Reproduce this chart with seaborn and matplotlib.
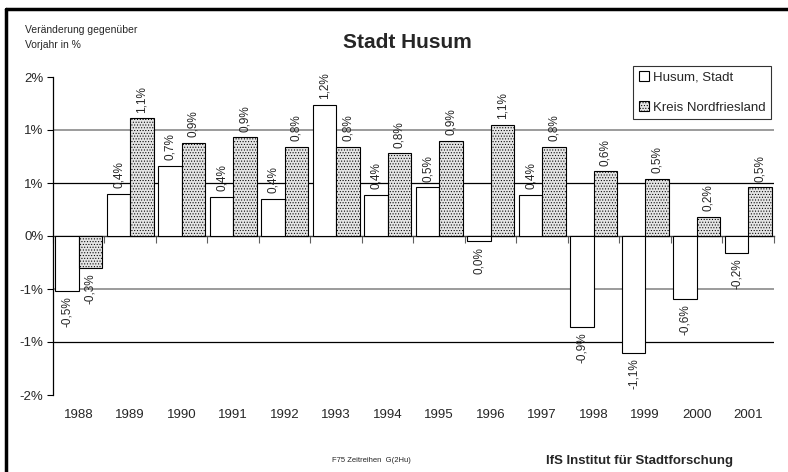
import matplotlib
matplotlib.use("Agg")
import matplotlib.pyplot as plt
import seaborn as sns
import pandas as pd
from matplotlib.lines import Line2D
from matplotlib.ticker import FixedLocator, NullFormatter

years = ["1988", "1989", "1990", "1991", "1992", "1993", "1994",
         "1995", "1996", "1997", "1998", "1999", "2000", "2001"]
husum = [-0.52, 0.40, 0.66, 0.37, 0.35, 1.24, 0.39,
         0.46, -0.05, 0.39, -0.86, -1.10, -0.59, -0.16]
kreis = [-0.30, 1.11, 0.88, 0.93, 0.84, 0.84, 0.78,
         0.90, 1.05, 0.84, 0.61, 0.54, 0.18, 0.46]
husum_labels = ["-0,5%", "0,4%", "0,7%", "0,4%", "0,4%", "1,2%", "0,4%",
                "0,5%", "0,0%", "0,4%", "-0,9%", "-1,1%", "-0,6%", "-0,2%"]
kreis_labels = ["-0,3%", "1,1%", "0,9%", "0,9%", "0,8%", "0,8%", "0,8%",
                "0,9%", "1,1%", "0,8%", "0,6%", "0,5%", "0,2%", "0,5%"]
series_names = ["Husum, Stadt", "Kreis Nordfriesland"]
yticks = [-1.5, -1.0, -0.5, 0.0, 0.5, 1.0, 1.5]
ytick_labels = ["-2%", "-1%", "-1%", "0%", "1%", "1%", "2%"]

sns.set_theme(style="white")
plt.rcParams["font.family"] = ["Liberation Sans", "DejaVu Sans"]
plt.rcParams["hatch.linewidth"] = 0.45

df = pd.DataFrame({
    "Jahr": years * 2,
    "Wert": husum + kreis,
    "Serie": [series_names[0]] * len(years) + [series_names[1]] * len(years),
})

fig = plt.figure(figsize=(7.88, 4.72), dpi=100)
ax = fig.add_axes([53 / 788, 1 - 395 / 472, (774 - 53) / 788, (395 - 77) / 472])

# reference/grid lines
grid_style = {1.0: "#808080", 0.5: "#000000", -0.5: "#808080", -1.0: "#000000"}
for yv, col in grid_style.items():
    ax.axhline(yv, color=col, lw=1.1 if col != "#000000" else 0.9, zorder=0)

sns.barplot(data=df, x="Jahr", y="Wert", hue="Serie", order=years,
            hue_order=series_names, palette=["white", "#e4e4e4"],
            width=0.91, edgecolor="black", linewidth=0.8, ax=ax, zorder=2,
            legend=True)

n = len(years)
for i, p in enumerate(ax.patches[:2 * n]):
    if i >= n:
        p.set_hatch("......")

# value labels
for i in range(n):
    for j, (vals, labs) in enumerate([(husum, husum_labels), (kreis, kreis_labels)]):
        p = ax.patches[j * n + i]
        xc = p.get_x() + p.get_width() / 2
        v = vals[i]
        if v >= 0:
            ax.annotate(labs[i], (xc, v), xytext=(0, 4), textcoords="offset points",
                        rotation=90, ha="center", va="bottom", fontsize=8.5)
        else:
            ax.annotate(labs[i], (xc, v), xytext=(0, -4), textcoords="offset points",
                        rotation=90, ha="center", va="top", fontsize=8.5)

ax.set_xlim(-0.5, n - 0.5)
ax.set_ylim(-1.5, 1.5)
ax.set_yticks(yticks)
ax.set_yticklabels(ytick_labels, fontsize=9.5)
ax.tick_params(axis="y", direction="out", length=4, width=0.8, color="black", pad=3, left=True)
ax.tick_params(axis="x", length=0, labelsize=9.5, pad=10)
ax.set_xlabel("")
ax.set_ylabel("")
for s in ["top", "right", "bottom"]:
    ax.spines[s].set_visible(False)
ax.spines["left"].set_color("black")
ax.spines["left"].set_linewidth(0.9)

# category axis at zero with boundary ticks
sec = ax.secondary_xaxis(0.5)
sec.set_alignment("bottom")
sec.spines["bottom"].set_color("#404040")
sec.spines["bottom"].set_linewidth(1.0)
sec.xaxis.set_major_locator(FixedLocator([k - 0.5 for k in range(n + 1)]))
sec.xaxis.set_major_formatter(NullFormatter())
sec.tick_params(axis="x", direction="out", length=5, width=0.8, color="#606060")

# legend
leg = ax.legend(loc="upper right", bbox_to_anchor=(771 / 788, 1 - 66 / 472),
                bbox_transform=fig.transFigure, frameon=True, fancybox=False,
                edgecolor="black", fontsize=9.5, handlelength=0.8, handleheight=0.8,
                handletextpad=0.3, labelspacing=1.3, borderpad=0.4, borderaxespad=0)
leg.get_frame().set_linewidth(0.8)
for h in leg.legend_handles:
    h.set_edgecolor("black")
leg.legend_handles[1].set_hatch("......")

# texts
fig.text(407 / 788, 1 - 42 / 472, "Stadt Husum", ha="center", va="center",
         fontsize=15, fontweight="bold")
fig.text(25 / 788, 1 - 30 / 472, "Veränderung gegenüber", ha="left", va="center", fontsize=7.5)
fig.text(25 / 788, 1 - 45 / 472, "Vorjahr in %", ha="left", va="center", fontsize=7.5)
fig.text(371 / 788, 1 - 460 / 472, "F75 Zeitreihen  G(2Hu)", ha="center", va="center", fontsize=5.5)
fig.text(640 / 788, 1 - 461 / 472, "IfS Institut für Stadtforschung", ha="center", va="center",
         fontsize=9.5, fontweight="bold")

# figure frame (left and top)
fig.add_artist(Line2D([6 / 788, 6 / 788], [0, 1 - 9 / 472], transform=fig.transFigure,
                      color="black", lw=2.5))
fig.add_artist(Line2D([6 / 788, 1], [1 - 9 / 472, 1 - 9 / 472], transform=fig.transFigure,
                      color="black", lw=2.5))

fig.savefig("out.png", dpi=100)
